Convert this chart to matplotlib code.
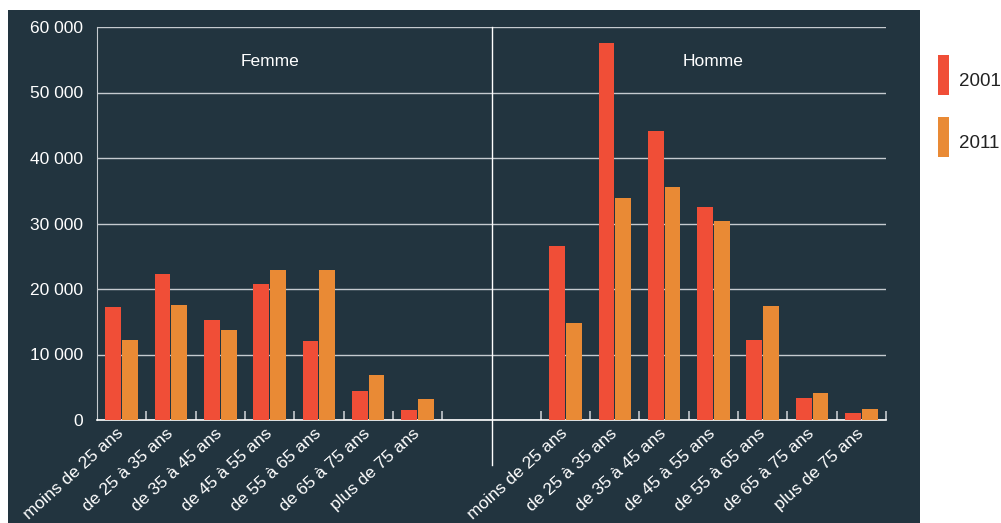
import numpy as np
import matplotlib.pyplot as plt
from matplotlib.patches import Rectangle
from matplotlib.ticker import FuncFormatter

plt.rcParams['font.family'] = ['Liberation Sans', 'DejaVu Sans']

# Age groups and counts by sex, 2001 vs 2011
age_groups = ['moins de 25 ans', 'de 25 à 35 ans', 'de 35 à 45 ans', 'de 45 à 55 ans',
              'de 55 à 65 ans', 'de 65 à 75 ans', 'plus de 75 ans']
femme_2001 = [17300, 22300, 15300, 20800, 12100, 4400, 1500]
femme_2011 = [12200, 17600, 13700, 22900, 22900, 6900, 3200]
homme_2001 = [26600, 57600, 44100, 32500, 12200, 3400, 1100]
homme_2011 = [14800, 33900, 35600, 30400, 17400, 4100, 1700]
groups = ['Femme', 'Homme']
years = ['2001', '2011']

bg = '#22343f'
red = '#f04e37'
orange = '#e98a35'
grid_col = '#c5cacf'

W, H = 1001, 523
fig = plt.figure(figsize=(W / 100, H / 100), dpi=100)
fig.patch.set_facecolor('white')
fig.add_artist(Rectangle((8 / W, 0), 912 / W, 513 / H,
                         transform=fig.transFigure, facecolor=bg, edgecolor='none', zorder=0))

ax = fig.add_axes([97 / W, 1 - 420 / H, 789 / W, 393 / H])
ax.set_facecolor(bg)

n = len(age_groups)
pos_f = np.arange(n)
pos_h = np.arange(n) + n + 2
w = 0.32
off = 0.17

ax.bar(pos_f - off, femme_2001, w, color=red, zorder=3)
ax.bar(pos_f + off, femme_2011, w, color=orange, zorder=3)
ax.bar(pos_h - off, homme_2001, w, color=red, zorder=3)
ax.bar(pos_h + off, homme_2011, w, color=orange, zorder=3)

ax.set_xlim(-0.5, 2 * n + 1.5)
ax.set_ylim(0, 60000)
ax.set_yticks(np.arange(0, 60001, 10000))
ax.yaxis.set_major_formatter(FuncFormatter(lambda v, p: f'{int(v):,}'.replace(',', ' ')))
ax.tick_params(axis='y', length=0, pad=10, labelsize=12.5, labelcolor='white')
ax.grid(axis='y', color=grid_col, linewidth=1, zorder=1)

ax.set_xticks(np.concatenate([pos_f, pos_h]))
ax.set_xticklabels(age_groups + age_groups, rotation=42, ha='right', va='center',
                   rotation_mode='anchor', fontsize=12.5, color='white')
ax.tick_params(axis='x', which='major', length=0, pad=8)
minor = np.concatenate([pos_f + 0.5, pos_h - 0.5, [pos_h[-1] + 0.5]])
ax.set_xticks(minor, minor=True)
ax.tick_params(axis='x', which='minor', direction='in', length=6.5, width=1.2, color=grid_col)

for side in ['top', 'right']:
    ax.spines[side].set_visible(False)
ax.spines['left'].set_color(grid_col)
ax.spines['bottom'].set_color('white')
ax.spines['bottom'].set_linewidth(1.2)

# divider between the two groups
ax.plot([n + 0.5, n + 0.5], [-0.1145, 1], transform=ax.get_xaxis_transform(),
        color='white', linewidth=1, clip_on=False, zorder=4)

for name, pos in zip(groups, [pos_f, pos_h]):
    ax.text((pos[0] + pos[-1]) / 2, 54800, name, ha='center', va='center',
            color='white', fontsize=12.5, zorder=5)

# legend drawn at figure level, right of the dark panel
for i, (label, col) in enumerate(zip(years, [red, orange])):
    top = 55 + i * 62
    fig.add_artist(Rectangle((938 / W, 1 - (top + 40) / H), 11 / W, 40 / H,
                             transform=fig.transFigure, facecolor=col, edgecolor='none'))
    fig.text(959 / W, 1 - (top + 26) / H, label, ha='left', va='center',
             fontsize=13.5, color='#222222')

fig.savefig('out.png', dpi=100, facecolor=fig.get_facecolor())
